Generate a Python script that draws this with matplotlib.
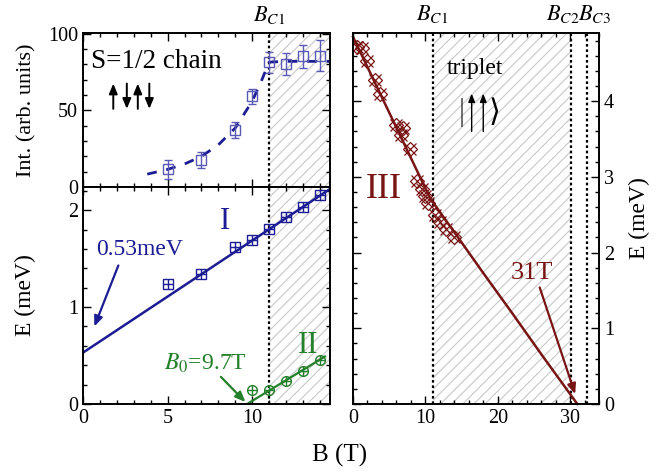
import numpy as np
import matplotlib
matplotlib.use('Agg')
import matplotlib.pyplot as plt
from matplotlib.ticker import MultipleLocator
import matplotlib.transforms as mtransforms

plt.rcParams['font.family'] = ['Liberation Serif', 'DejaVu Serif']
plt.rcParams['mathtext.fontset'] = 'stix'
plt.rcParams['hatch.linewidth'] = 0.8

# colours
BLUE = '#1c1c94'
GREEN = '#24802a'
DRED = '#781414'

# --- top left: intensity of mode I ---
int_B = [5, 7, 9, 10, 11, 12, 13, 14]
int_val = [11.5, 17.6, 37.2, 59.2, 81.3, 80.2, 85.2, 85.7]
int_err = [6, 5.3, 5.4, 5, 7, 7, 7.5, 10]
# dashed guide to the eye
guide_B = [3.8, 5, 6, 7, 8, 9, 10, 10.5, 11, 12, 13, 14.6]
guide_val = [8.4, 11.5, 15, 20, 27.5, 38.5, 56, 68, 81.5, 82, 82, 82]

# --- bottom left: modes I and II ---
modeI_B = [5, 7, 9, 10, 11, 12, 13, 14]
modeI_E = [1.24, 1.34, 1.62, 1.69, 1.81, 1.93, 2.03, 2.16]
fitI_B = [0, 14.6]
fitI_E = [0.53, 2.22]

modeII_B = [10, 11, 12, 13, 14]
modeII_E = [0.14, 0.14, 0.235, 0.34, 0.455]
fitII_B = [9.7, 14.3]
fitII_E = [0.0, 0.49]

# --- right: mode III ---
modeIII_B = [0.5, 1.2, 1.9, 3.0, 3.7, 6.0, 6.7, 6.9, 7.9, 8.8, 9.5, 10.0,
             10.4, 11.3, 12.0, 12.9, 13.9]
modeIII_E = [4.72, 4.70, 4.53, 4.28, 4.09, 3.68, 3.55, 3.64, 3.37, 2.95, 2.84,
             2.75, 2.66, 2.50, 2.40, 2.31, 2.20]
fitIII_B = [0, 4, 8, 10.7, 14, 18, 22, 26, 31.0]
fitIII_E = [4.85, 4.05, 3.25, 2.71, 2.27, 1.73, 1.20, 0.66, 0.0]

B_C1, B_C2, B_C3 = 11.0, 30.1, 32.4

fig = plt.figure(figsize=(6.72, 4.75), dpi=100)
ax_top = fig.add_axes([0.1235, 0.6063, 0.3676, 0.3242])
ax_bot = fig.add_axes([0.1235, 0.1495, 0.3676, 0.4568])
ax_r = fig.add_axes([0.5253, 0.1495, 0.3661, 0.7810])


def style(ax):
    ax.tick_params(which='both', direction='in', top=True, right=True,
                   labelsize=14.5, width=1)
    ax.tick_params(which='major', length=6)
    ax.tick_params(which='minor', length=3)
    for s in ax.spines.values():
        s.set_linewidth(1.4)


def hatch(ax, x0, x1):
    ax.axvspan(x0, x1, facecolor='none', edgecolor='#c8c8c8', hatch='///',
               linewidth=0, zorder=0)


def dotted(ax, x):
    ax.axvline(x, color='black', linestyle=(0, (1.2, 1.2)), linewidth=1.6,
               zorder=1)


arrow_kw = dict(arrowstyle='-|>,head_length=0.6,head_width=0.25', lw=1.6,
                shrinkA=0, shrinkB=0)

# top left
ax = ax_top
hatch(ax, B_C1, 14.6)
dotted(ax, B_C1)
ax.plot(guide_B, guide_val, color=BLUE, linestyle=(0, (3.5, 3.5)), lw=2)
ax.errorbar(int_B, int_val, yerr=int_err, fmt='s', ms=7, mfc='none',
            mec='#5a5ab4', ecolor='#5a5ab4', elinewidth=1, capsize=3, mew=1)
ax.set_xlim(0, 14.6)
ax.set_ylim(0, 100.5)
ax.yaxis.set_major_locator(MultipleLocator(50))
ax.yaxis.set_minor_locator(MultipleLocator(10))
ax.xaxis.set_major_locator(MultipleLocator(5))
ax.xaxis.set_minor_locator(MultipleLocator(1))
style(ax)
ax.tick_params(labelbottom=False)
ax.set_ylabel('Int. (arb. units)', fontsize=16)
ax.yaxis.set_label_coords(-0.19, 0.5)
ax.text(0.5, 82, 'S=1/2 chain', fontsize=19.5, va='center', ha='left')
for xs, up in [(1.79, True), (2.59, False), (3.24, True), (3.92, False)]:
    lo, hi = 51, 67.5
    start, end = (lo, hi) if up else (hi, lo)
    ax.annotate('', xy=(xs, end), xytext=(xs, start),
                arrowprops=dict(arrowstyle='-|>,head_length=0.6,head_width=0.25',
                                color='black', lw=1.4, shrinkA=0, shrinkB=0))
ax.text(B_C1, 1.12, '$B_{C1}$', transform=mtransforms.blended_transform_factory(
    ax.transData, ax.transAxes), ha='center', va='center', fontsize=16)

# bottom left
ax = ax_bot
hatch(ax, B_C1, 14.6)
dotted(ax, B_C1)
ax.plot(fitI_B, fitI_E, color=BLUE, lw=1.8)
ax.plot(modeI_B, modeI_E, 's', ms=7, mfc='none', mec=BLUE, mew=1)
ax.plot(modeI_B, modeI_E, '+', ms=7, mec=BLUE, mew=1)
ax.plot(fitII_B, fitII_E, color=GREEN, lw=1.6)
ax.plot(modeII_B, modeII_E, 'o', ms=7, mfc='none', mec=GREEN, mew=1)
ax.plot(modeII_B, modeII_E, '+', ms=7, mec=GREEN, mew=1)
ax.set_xlim(0, 14.6)
ax.set_ylim(0, 2.24)
ax.yaxis.set_major_locator(MultipleLocator(1))
ax.yaxis.set_minor_locator(MultipleLocator(0.2))
ax.xaxis.set_major_locator(MultipleLocator(5))
ax.xaxis.set_minor_locator(MultipleLocator(1))
style(ax)
ax.set_ylabel('E (meV)', fontsize=17)
ax.yaxis.set_label_coords(-0.19, 0.5)
ax.text(8.4, 1.88, 'I', color=BLUE, fontsize=22, ha='center', va='center')
ax.text(0.8, 1.59, '0.53meV', color=BLUE, fontsize=17, ha='left', va='center')
ax.annotate('', xy=(0.67, 0.80), xytext=(2.09, 1.43),
            arrowprops=dict(color=BLUE, **arrow_kw))
ax.text(13.3, 0.6, 'II', color=GREEN, fontsize=22, ha='center', va='center')
ax.text(4.8, 0.42, '$B_0$=9.7T', color=GREEN, fontsize=17, ha='left',
        va='center')
ax.annotate('', xy=(9.6, 0.02), xytext=(8.15, 0.28),
            arrowprops=dict(color=GREEN, **arrow_kw))

# right panel
ax = ax_r
hatch(ax, B_C1, B_C2)
for xv in (B_C1, B_C2, B_C3):
    dotted(ax, xv)
ax.plot(fitIII_B, fitIII_E, color=DRED, lw=1.8, clip_on=False)
ax.plot(modeIII_B, modeIII_E, 'D', ms=7, mfc='none', mec=DRED, mew=0.9)
ax.plot(modeIII_B, modeIII_E, 'x', ms=8, mec=DRED, mew=0.9)
ax.set_xlim(0, 34)
ax.set_ylim(0, 4.9)
ax.xaxis.set_major_locator(MultipleLocator(10))
ax.xaxis.set_minor_locator(MultipleLocator(2))
ax.yaxis.set_major_locator(MultipleLocator(1))
ax.yaxis.set_minor_locator(MultipleLocator(0.2))
style(ax)
ax.tick_params(labelleft=False, labelright=True)
ax.yaxis.set_label_position('right')
ax.set_ylabel('E (meV)', fontsize=17)
ax.yaxis.set_label_coords(1.12, 0.5)
trans = mtransforms.blended_transform_factory(ax.transData, ax.transAxes)
for xl, lab in [(11.0, '$B_{C1}$'), (29.0, '$B_{C2}$'), (33.4, '$B_{C3}$')]:
    ax.text(xl, 1.052, lab, transform=trans, ha='center', va='center',
            fontsize=16)
ax.text(13.0, 4.43, 'triplet', fontsize=17, ha='left', va='center')
ax.text(15.0, 3.85, '|', fontsize=22, ha='center', va='center', color='#444444')
for xs in (16.4, 18.0):
    ax.annotate('', xy=(xs, 4.1), xytext=(xs, 3.6),
                arrowprops=dict(arrowstyle='-|>,head_length=0.5,head_width=0.2',
                                color='black', lw=1.0, shrinkA=0, shrinkB=0))
ax.text(19.5, 3.85, '\u27e9', fontsize=22, ha='center', va='center',
        family=['DejaVu Serif', 'DejaVu Sans'])
ax.text(4.2, 2.83, 'III', color=DRED, fontsize=26, ha='center', va='center')
ax.text(24.7, 1.73, '31T', color=DRED, fontsize=19, ha='center', va='center')
ax.annotate('', xy=(30.7, 0.13), xytext=(25.8, 1.54),
            arrowprops=dict(color=DRED, **arrow_kw))

fig.text(0.506, 0.042, 'B (T)', fontsize=18, ha='center', va='center')

fig.savefig('out.png', dpi=100)
